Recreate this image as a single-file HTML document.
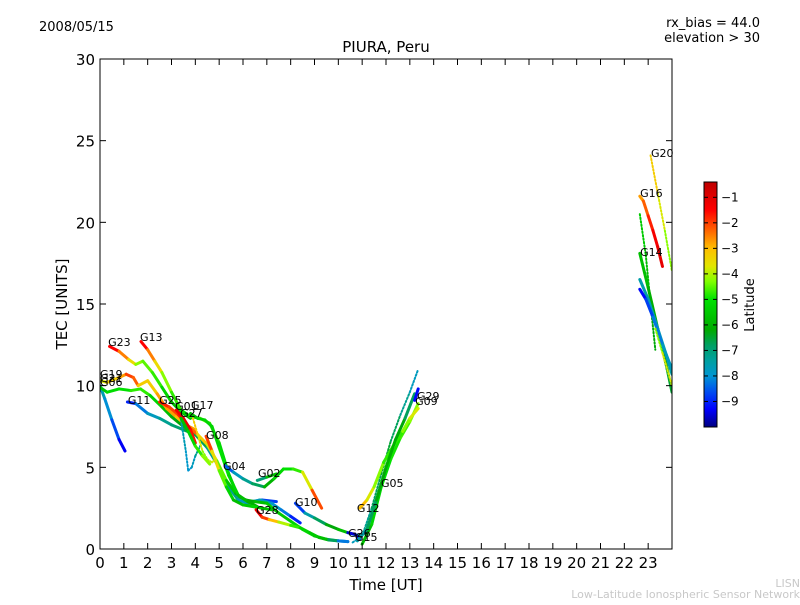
<!DOCTYPE html>
<html><head><meta charset="utf-8"><style>
body{margin:0;background:#fff;}
svg text{font-family:"DejaVu Sans","Liberation Sans",sans-serif;}
</style></head><body>
<svg id="c" width="800" height="600" xmlns="http://www.w3.org/2000/svg">
<defs><clipPath id="clip"><rect x="100" y="59" width="572" height="490"/></clipPath>
<linearGradient id="jet" x1="0" y1="1" x2="0" y2="0"></linearGradient></defs>
<text x="39" y="31" font-size="13">2008/05/15</text>
<text x="760" y="27" font-size="13" text-anchor="end">rx_bias = 44.0</text>
<text x="760" y="42" font-size="13" text-anchor="end">elevation &gt; 30</text>
<text x="386" y="52" font-size="15" text-anchor="middle">PIURA, Peru</text>
<text x="386" y="590" font-size="15" text-anchor="middle">Time [UT]</text>
<text x="67" y="304" font-size="15" text-anchor="middle" transform="rotate(-90 67 304)">TEC [UNITS]</text>
<text x="800" y="587" font-size="11" fill="#c8c8c8" text-anchor="end">LISN</text>
<text x="800" y="598" font-size="11" fill="#c8c8c8" text-anchor="end">Low-Latitude Ionospheric Sensor Network</text>
<g id="marks" clip-path="url(#clip)"></g>
<g id="labels"></g>
<rect x="100" y="59" width="572" height="490" fill="none" stroke="#000" stroke-width="1"/>
<g id="axes"></g>
<rect x="704" y="182" width="13" height="245" fill="url(#jet)" stroke="#000" stroke-width="1"/>
<g id="cbar"></g>
<text x="754" y="305" font-size="13" text-anchor="middle" transform="rotate(-90 754 305)">Latitude</text>
</svg>
<script>
const xTicks=[0,1,2,3,4,5,6,7,8,9,10,11,12,13,14,15,16,17,18,19,20,21,22,23];
const yTicks=[0,5,10,15,20,25,30];
const cbTicks=[-1,-2,-3,-4,-5,-6,-7,-8,-9];
const labelNames=["G23","G13","G19","G21","G06","G11","G25","G01","G17","G27","G08","G04","G02","G28","G10","G12","G05","G26","G15","G29","G09","G20","G16","G14"];
const labelT=[0.34,1.68,0,0,0,1.17,2.48,3.15,3.82,3.36,4.45,5.16,6.63,6.55,8.18,10.78,11.79,10.41,10.70,13.30,13.22,23.12,22.66,22.66];
const labelTec=[12.43,12.73,10.47,10.22,9.98,8.88,8.88,8.51,8.57,8.08,6.73,4.84,4.41,2.14,2.63,2.27,3.80,0.73,0.49,9.12,8.82,24.0,21.55,17.94];
const tracks=[
{n:"t1",t:[0,0.2,0.5,0.8,1.05],tec:[10,9.2,7.9,6.7,6.0],lat:[-7.5,-7.8,-8.3,-9,-9.7]},
{n:"g06",t:[0,0.3,0.8,1.3,1.7,2.1,2.6,3.0,3.5,3.9],tec:[9.9,9.6,9.8,9.7,9.8,9.4,8.7,8.1,7.5,7.2],lat:[-6,-5.2,-5,-5,-4.5,-5,-5.5,-6,-6.5,-6.5]},
{n:"g19",t:[0,0.3,0.8,1.1,1.4,1.6,2.0,2.4,2.8,3.2,3.6,4.0],tec:[10.3,10.2,10.5,10.7,10.5,10.0,10.3,9.5,8.6,8.1,7.6,7.3],lat:[-4,-3.5,-3,-2.5,-1.5,-3,-3.5,-3,-2.5,-3,-3,-2.5]},
{n:"g23",t:[0.4,0.8,1.2,1.5,1.8,2.2,2.6,3.0,3.4,3.8],tec:[12.4,12.1,11.6,11.3,11.5,10.8,9.9,9.0,8.4,8.0],lat:[-1,-2,-3,-4,-4.5,-4.5,-5,-5.5,-6,-6]},
{n:"g13",t:[1.72,2.0,2.3,2.6,3.0,3.4,3.8,4.2,4.6,5.0,5.4,5.8,6.3,6.8,7.4],tec:[12.7,12.2,11.5,10.8,9.6,8.5,8.1,8.0,7.7,6.5,4.6,3.2,2.9,3.0,2.9],lat:[-1,-2,-3,-4,-4.5,-5,-5,-4.5,-4.5,-5,-5.5,-6,-7,-8,-9.5]},
{n:"g11",t:[1.15,1.5,2.0,2.5,3.0,3.5,4.0,4.5,5.0,5.4,5.8,6.2,6.7,7.2,7.6,8.0,8.4],tec:[9.0,8.9,8.3,8.0,7.6,7.3,7.0,6.2,5.0,3.8,3.0,2.8,3.0,2.8,2.4,2.0,1.6],lat:[-9.5,-8.5,-8,-7.5,-7,-6.8,-6.5,-7,-7.5,-7,-7.5,-8,-7.5,-7.8,-8,-8.5,-9.5]},
{n:"g25",t:[2.5,2.9,3.3,3.7,4.1,4.5,4.9,5.3,5.7,6.1,6.5,7.0,7.5,8.0,8.5,9.0,9.5,10.0,10.4],tec:[9.0,8.7,8.2,7.5,7.0,6.4,5.4,4.2,3.4,3.0,2.9,2.8,2.2,1.7,1.2,0.8,0.6,0.5,0.45],lat:[-1.5,-2,-2,-1.5,-3,-3.5,-4,-5,-6,-6.5,-6,-5.5,-5.5,-5.5,-5,-5.5,-6,-7.5,-9]},
{n:"g17",t:[3.8,4.1,4.4,4.7,5.0,5.4,5.8,6.2,6.6],tec:[8.3,8.0,7.9,7.5,6.2,4.5,3.3,2.9,2.6],lat:[-6,-5.5,-5,-5.5,-5,-5,-5.5,-6,-6]},
{n:"g08",t:[4.45,4.7,5.0,5.3,5.6,6.0,6.4,6.8,7.2],tec:[6.9,6.0,4.8,3.8,3.0,2.7,2.6,2.5,2.4],lat:[-1,-3,-4,-5,-5.5,-6,-5,-5.5,-6]},
{n:"g04",t:[5.25,5.6,6.0,6.4,6.9,7.3,7.7,8.1,8.5,8.9,9.3],tec:[5.1,4.7,4.3,4.0,3.8,4.3,4.9,4.9,4.7,3.6,2.5],lat:[-9,-8,-7.5,-7,-6.5,-5.5,-5,-5,-4.5,-3,-1.2]},
{n:"g02",t:[6.6,7.0,7.4],tec:[4.2,4.4,4.6],lat:[-8,-6,-5.5]},
{n:"g28",t:[6.55,6.8,7.1,7.5,8.0,8.4,8.8,9.2,9.6,10.0,10.4],tec:[2.4,1.95,1.8,1.65,1.45,1.3,1.0,0.7,0.55,0.5,0.45],lat:[-1,-1.5,-2.5,-3.5,-4.5,-5,-5.5,-5.5,-6,-7.5,-9]},
{n:"g10",t:[8.2,8.6,9.0,9.5,10.0,10.5,10.9],tec:[2.8,2.2,1.9,1.5,1.2,0.95,0.8],lat:[-9.5,-8,-7,-6.5,-6,-5.5,-9]},
{n:"g15",t:[10.4,10.7,10.9],tec:[1.0,0.9,0.6],lat:[-9.5,-9.5,-9.5]},
{n:"rise1",d:1,t:[10.6,11.0,11.4,11.8,12.2,12.6,13.0,13.35],tec:[0.4,0.8,2.5,4.6,6.6,8.2,9.6,11.0],lat:[-8,-7.5,-7,-6.5,-6.5,-7,-7.5,-8]},
{n:"rise2",t:[11.0,11.4,11.8,12.2,12.6,13.0,13.35],tec:[0.3,1.5,3.8,5.5,6.8,7.8,8.9],lat:[-6,-5.5,-5,-5,-4.8,-4.5,-4]},
{n:"g12",t:[10.9,11.2,11.5,11.9,12.3,12.7,13.0,13.35],tec:[2.5,3.0,3.8,5.3,6.3,7.2,8.0,8.6],lat:[-2.5,-3.5,-4,-4.5,-5,-4.5,-4,-3.5]},
{n:"g05",t:[10.8,11.2,11.6,12.0,12.4,12.8,13.2],tec:[0.5,1.2,3.0,5.0,6.7,8.0,9.5],lat:[-8,-7,-6.5,-6,-6,-6.5,-7]},
{n:"g29",t:[13.2,13.35],tec:[9.1,9.8],lat:[-9.5,-9]},
{n:"cloud1",d:1,t:[3.4,3.6,3.7,3.85,4.0,4.2],tec:[7.9,6.0,4.8,5.0,5.7,6.3],lat:[-7.5,-7.8,-8,-8,-7.5,-7]},
{n:"cloud2",d:1,t:[3.9,4.1,4.3,4.5,4.7,4.9],tec:[8.0,7.0,6.0,5.5,5.3,5.6],lat:[-3,-3.5,-4,-4.5,-3.5,-4]},
{n:"g01",t:[3.2,3.5,3.8,4.0],tec:[8.5,8.0,7.3,6.5],lat:[-1.5,-1,-1.2,-2]},
{n:"g27",t:[3.4,3.7,4.0,4.3,4.6],tec:[8.0,7.2,6.3,5.7,5.2],lat:[-6,-5.5,-5,-4.5,-4]},
{n:"g20",d:1,t:[23.1,23.4,23.7,24.0],tec:[24.1,21.8,19.5,17.0],lat:[-3,-3.5,-4,-4.5]},
{n:"g16",t:[22.65,22.8,23.0,23.2,23.4,23.6],tec:[21.6,21.3,20.4,19.5,18.5,17.3],lat:[-3,-2.5,-2,-1.5,-1.2,-1]},
{n:"late-green",d:1,t:[22.65,22.9,23.1,23.3],tec:[20.5,18.0,15.0,12.2],lat:[-5.5,-5.5,-6,-6.5]},
{n:"g14",t:[22.65,23.0,23.4,23.8,24.0],tec:[18.1,16.0,13.5,11.0,9.6],lat:[-5.5,-6,-6.2,-6.5,-6.5]},
{n:"late-teal",t:[22.65,23.0,23.4,23.8,24.0],tec:[16.5,15.3,13.5,11.7,10.7],lat:[-7.5,-7.5,-7.8,-7.5,-7.5]},
{n:"late-blue",t:[22.65,22.9,23.2,23.6,24.0],tec:[15.9,15.3,14.2,12.5,11.0],lat:[-9.5,-9,-8.5,-8,-7.5]},
{n:"late-yellow",d:1,t:[23.3,23.6,24.0],tec:[13.5,12,10],lat:[-4.5,-4,-3.5]}
];
const NS="http://www.w3.org/2000/svg";
const X=t=>100+t*572/24, Y=v=>549-v*490/30;
const LMIN=-10, LMAX=-0.4;
const STOPS=[[-10,[0,0,128]],[-9.3,[0,0,255]],[-8.6,[0,80,240]],[-8,[0,150,210]],[-7.4,[0,160,160]],[-6.8,[0,160,100]],[-6.2,[0,170,0]],[-5,[0,225,0]],[-4.3,[128,255,0]],[-3.7,[225,230,0]],[-3,[255,190,0]],[-2.3,[255,100,0]],[-1.5,[255,0,0]],[-0.4,[190,0,0]]];
function col(l){
 if(l<=STOPS[0][0])return `rgb(${STOPS[0][1]})`;
 for(let i=1;i<STOPS.length;i++){if(l<=STOPS[i][0]){const a=STOPS[i-1],b=STOPS[i],f=(l-a[0])/(b[0]-a[0]);
  return `rgb(${a[1].map((c,k)=>Math.round(c+(b[1][k]-c)*f)).join(',')})`;}}
 return `rgb(${STOPS[STOPS.length-1][1]})`;}
function el(tag,a,p){const e=document.createElementNS(NS,tag);for(const k in a)e.setAttribute(k,a[k]);p.appendChild(e);return e;}
const grad=document.getElementById('jet');
STOPS.forEach(s=>el('stop',{offset:(s[0]-LMIN)/(LMAX-LMIN),'stop-color':`rgb(${s[1]})`},grad));
const marks=document.getElementById('marks');
tracks.forEach(tr=>{
 const g=el('g',{},marks);
 
 
 for(let i=0;i<tr.t.length-1;i++){
  const s=el('line',{x1:X(tr.t[i]),y1:Y(tr.tec[i]),x2:X(tr.t[i+1]),y2:Y(tr.tec[i+1]),stroke:col((tr.lat[i]+tr.lat[i+1])/2),'stroke-width':tr.d?2:3,'stroke-linecap':'round'},g);
  if(tr.d)s.setAttribute('stroke-dasharray','1.5 2');
  
  
 }
});
const lg=document.getElementById('labels');
labelNames.forEach((n,i)=>{
 const t=el('text',{x:X(labelT[i]),y:Y(labelTec[i]),'font-size':11},lg);t.textContent=n;
 
 
});
const ax=document.getElementById('axes');
xTicks.forEach(v=>{
 el('line',{x1:X(v),x2:X(v),y1:549,y2:543,stroke:'#000'},ax);
 el('line',{x1:X(v),x2:X(v),y1:59,y2:65,stroke:'#000'},ax);
 const t=el('text',{x:X(v),y:568,'font-size':15,'text-anchor':'middle'},ax);t.textContent=v;
 
 
});
yTicks.forEach(v=>{
 el('line',{x1:100,x2:106,y1:Y(v),y2:Y(v),stroke:'#000'},ax);
 el('line',{x1:672,x2:666,y1:Y(v),y2:Y(v),stroke:'#000'},ax);
 const t=el('text',{x:95,y:Y(v)+6,'font-size':15,'text-anchor':'end'},ax);t.textContent=v;
 
 
});
const cb=document.getElementById('cbar');
const CY=l=>427-(l-LMIN)*245/(LMAX-LMIN);
cbTicks.forEach(v=>{
 el('line',{x1:713,x2:717,y1:CY(v),y2:CY(v),stroke:'#000'},cb);
 el('line',{x1:704,x2:708,y1:CY(v),y2:CY(v),stroke:'#000'},cb);
 const t=el('text',{x:721,y:CY(v)+4,'font-size':12},cb);t.textContent='\u2212'+(-v);
 
 
});
</script>
</body></html>
